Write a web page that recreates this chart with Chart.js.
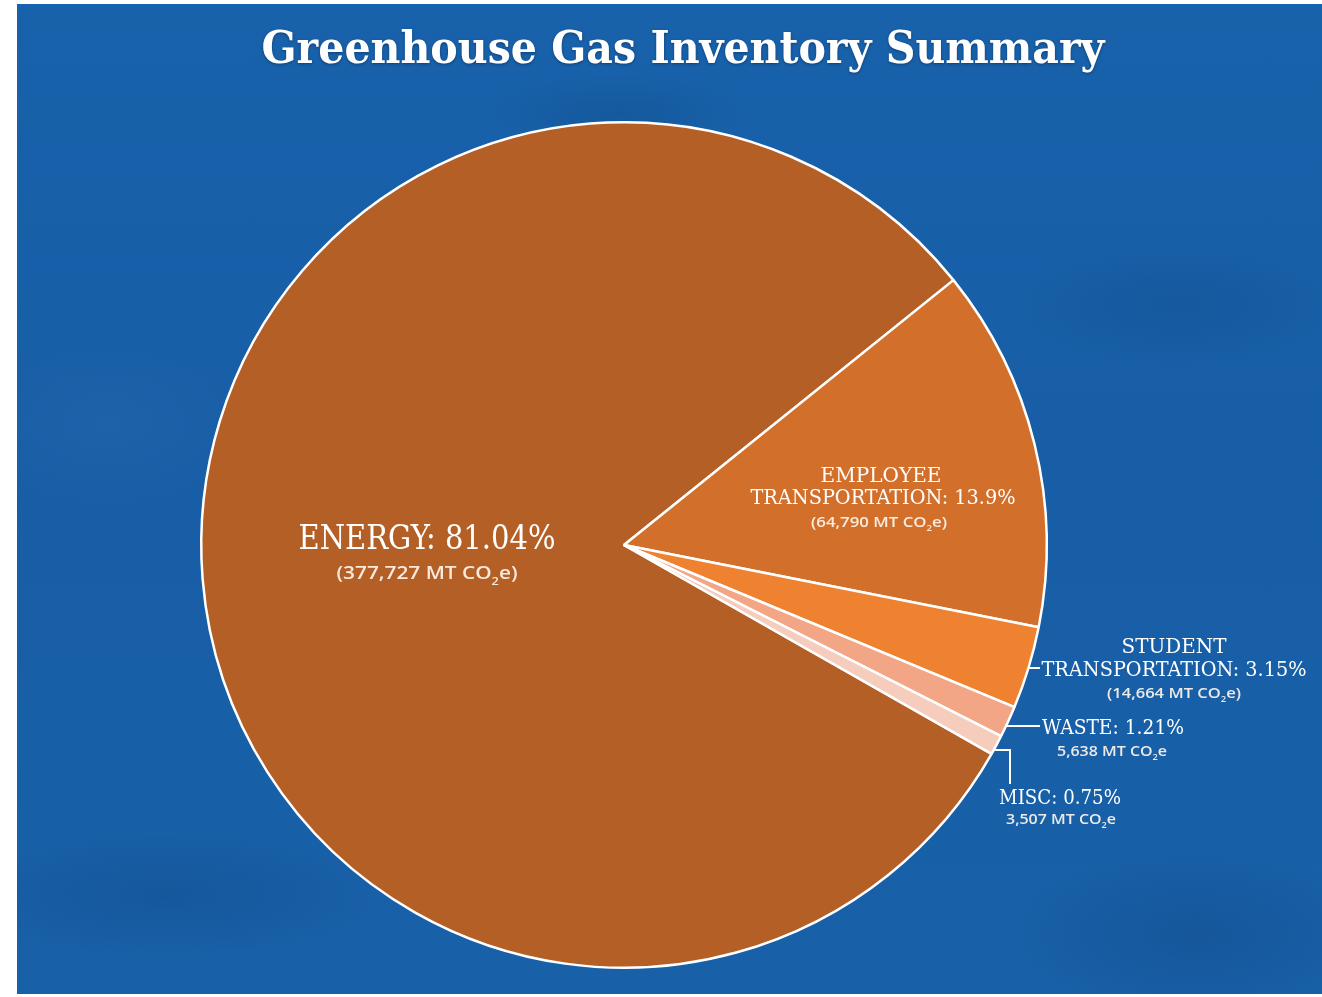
<!DOCTYPE html>
<html>
<head>
<meta charset="utf-8">
<title>Greenhouse Gas Inventory Summary</title>
<script src="https://cdn.jsdelivr.net/npm/chart.js@4.4.1/dist/chart.umd.min.js"></script>
<style>
    html, body { margin: 0; padding: 0; background: #ffffff; }
    #wrap { position: relative; width: 1322px; height: 997px; overflow: hidden; }
    #bg {
        position: absolute; left: 17px; top: 4px; width: 1305px; height: 990px;
        background:
            radial-gradient(ellipse 260px 120px at 1180px 930px, rgba(10, 50, 100, 0.2), rgba(10, 50, 100, 0) 70%),
            radial-gradient(ellipse 300px 90px at 150px 890px, rgba(10, 50, 100, 0.18), rgba(10, 50, 100, 0) 70%),
            radial-gradient(ellipse 200px 60px at 600px 110px, rgba(10, 50, 100, 0.18), rgba(10, 50, 100, 0) 70%),
            radial-gradient(ellipse 240px 90px at 1160px 300px, rgba(10, 50, 100, 0.15), rgba(10, 50, 100, 0) 70%),
            radial-gradient(ellipse 220px 120px at 90px 420px, rgba(40, 110, 180, 0.3), rgba(40, 110, 180, 0) 70%),
            linear-gradient(180deg, #1862ab 0%, #175ea6 45%, #1860a8 100%);
    }
    #chart { position: absolute; left: 0; top: 0; }
</style>
</head>
<body>
<div id="wrap">
    <div id="bg"></div>
    <canvas id="chart" width="1322" height="997"></canvas>
</div>
<script>
// --- DATA ---
const categories = ['Energy', 'Employee Transportation', 'Student Transportation', 'Waste', 'Misc'];
const emissionsMT = [377727, 64790, 14664, 5638, 3507];
const sharePct = ['81.04%', '13.9%', '3.15%', '1.21%', '0.75%'];
const sliceColors = ['#b35f26', '#d2702b', '#ef8231', '#f2a686', '#f6ccbd'];

const chartTitle = 'Greenhouse Gas Inventory Summary';

// --- LABEL TEXT (built from the data) ---
const fmt = v => v.toLocaleString('en-US');
const subLine = (i, parens) => parens
    ? ['(' + fmt(emissionsMT[i]) + ' MT CO', { sub: '2' }, 'e)']
    : [fmt(emissionsMT[i]) + ' MT CO', { sub: '2' }, 'e'];

// label layout: offsets (px) from the pie centre, target text widths
const labelLayout = [
    { lines: [
        { t: ['ENERGY: ' + sharePct[0]], kind: 'head', size: 33, dx: -197, dy: -8, w: 257 },
        { t: subLine(0, true), kind: 'sub', size: 18, dx: -197, dy: 28, w: 181 }
    ] },
    { lines: [
        { t: ['EMPLOYEE'], kind: 'head', size: 21, dx: 257, dy: -71, w: 121 },
        { t: ['TRANSPORTATION: ' + sharePct[1]], kind: 'head', size: 21, dx: 259, dy: -49, w: 265 },
        { t: subLine(1, true), kind: 'sub', size: 14, dx: 255, dy: -23, w: 136 }
    ] },
    { leader: { dy: 123, toDx: 416 }, lines: [
        { t: ['STUDENT'], kind: 'head', size: 21, dx: 550, dy: 100, w: 105 },
        { t: ['TRANSPORTATION: ' + sharePct[2]], kind: 'head', size: 21, dx: 550, dy: 123, w: 265 },
        { t: subLine(2, true), kind: 'sub', size: 14, dx: 550, dy: 148, w: 134 }
    ] },
    { leader: { dy: 181, toDx: 416 }, lines: [
        { t: ['WASTE: ' + sharePct[3]], kind: 'head', size: 21, dx: 489, dy: 181, w: 142 },
        { t: subLine(3, false), kind: 'sub', size: 14, dx: 488, dy: 206, w: 110 }
    ] },
    { leader: { dy: 205, toDx: 386, downTo: 239 }, lines: [
        { t: ['MISC: ' + sharePct[4]], kind: 'head', size: 21, dx: 436, dy: 251, w: 122 },
        { t: subLine(4, false), kind: 'sub', size: 14, dx: 437, dy: 274, w: 110 }
    ] }
];

const HEAD_FONT = '"DejaVu Serif Condensed", "DejaVu Serif", serif';
const SUB_FONT = '"Open Sans", "Noto Sans", sans-serif';

// draws a line of text (with optional subscript parts) centred at x,
// caps centred at y, squeezed to width w
function drawRich(ctx, parts, x, y, size, family, weight, w, color) {
    const main = weight + ' ' + size + 'px ' + family;
    const small = weight + ' ' + Math.round(size * 0.6) + 'px ' + family;
    let natural = 0;
    const widths = parts.map(p => {
        ctx.font = typeof p === 'string' ? main : small;
        const m = ctx.measureText(typeof p === 'string' ? p : p.sub).width;
        natural += m;
        return m;
    });
    const sx = w ? w / natural : 1;
    ctx.save();
    ctx.translate(x, y + size * 0.36);
    ctx.scale(sx, 1);
    ctx.fillStyle = color;
    ctx.textAlign = 'left';
    ctx.textBaseline = 'alphabetic';
    let cur = -natural / 2;
    parts.forEach((p, i) => {
        if (typeof p === 'string') {
            ctx.font = main;
            ctx.fillText(p, cur, 0);
        } else {
            ctx.font = small;
            ctx.fillText(p.sub, cur, size * 0.3);
        }
        cur += widths[i];
    });
    ctx.restore();
}

const labelPlugin = {
    id: 'ghgLabels',
    afterDatasetsDraw(chart) {
        const ctx = chart.ctx;
        const arcs = chart.getDatasetMeta(0).data;
        const cx = arcs[0].x, cy = arcs[0].y, R = arcs[0].outerRadius;

        // title
        ctx.save();
        ctx.shadowColor = 'rgba(0, 20, 50, 0.45)';
        ctx.shadowBlur = 3;
        ctx.shadowOffsetY = 1;
        drawRich(ctx, [chartTitle], 683, 47, 44, HEAD_FONT, 'bold', 843, '#ffffff');
        ctx.restore();

        labelLayout.forEach(lab => {
            if (lab.leader) {
                const ly = cy + lab.leader.dy;
                const sx = cx + Math.sqrt(Math.max(R * R - lab.leader.dy * lab.leader.dy, 0));
                ctx.save();
                ctx.strokeStyle = '#ffffff';
                ctx.lineWidth = 2;
                ctx.beginPath();
                ctx.moveTo(sx, ly);
                ctx.lineTo(cx + lab.leader.toDx, ly);
                if (lab.leader.downTo) ctx.lineTo(cx + lab.leader.toDx, cy + lab.leader.downTo);
                ctx.stroke();
                ctx.restore();
            }
            lab.lines.forEach(l => {
                if (l.kind === 'head') {
                    drawRich(ctx, l.t, cx + l.dx, cy + l.dy, l.size, HEAD_FONT, 'normal', l.w, '#ffffff');
                } else {
                    drawRich(ctx, l.t, cx + l.dx, cy + l.dy, l.size, SUB_FONT, '600', l.w, 'rgba(255,245,238,0.92)');
                }
            });
        });
    }
};

// --- CHART ---
const ctx = document.getElementById('chart').getContext('2d');
new Chart(ctx, {
    type: 'pie',
    data: {
        labels: categories,
        datasets: [{
            data: emissionsMT,
            backgroundColor: sliceColors,
            borderColor: '#ffffff',
            borderWidth: 2.5
        }]
    },
    options: {
        responsive: false,
        animation: false,
        rotation: 119.6,
        layout: { padding: { top: 121, bottom: 28, left: 100, right: 174 } },
        plugins: {
            legend: { display: false },
            tooltip: { enabled: false },
            title: { display: false }
        }
    },
    plugins: [labelPlugin]
});
</script>
</body>
</html>
